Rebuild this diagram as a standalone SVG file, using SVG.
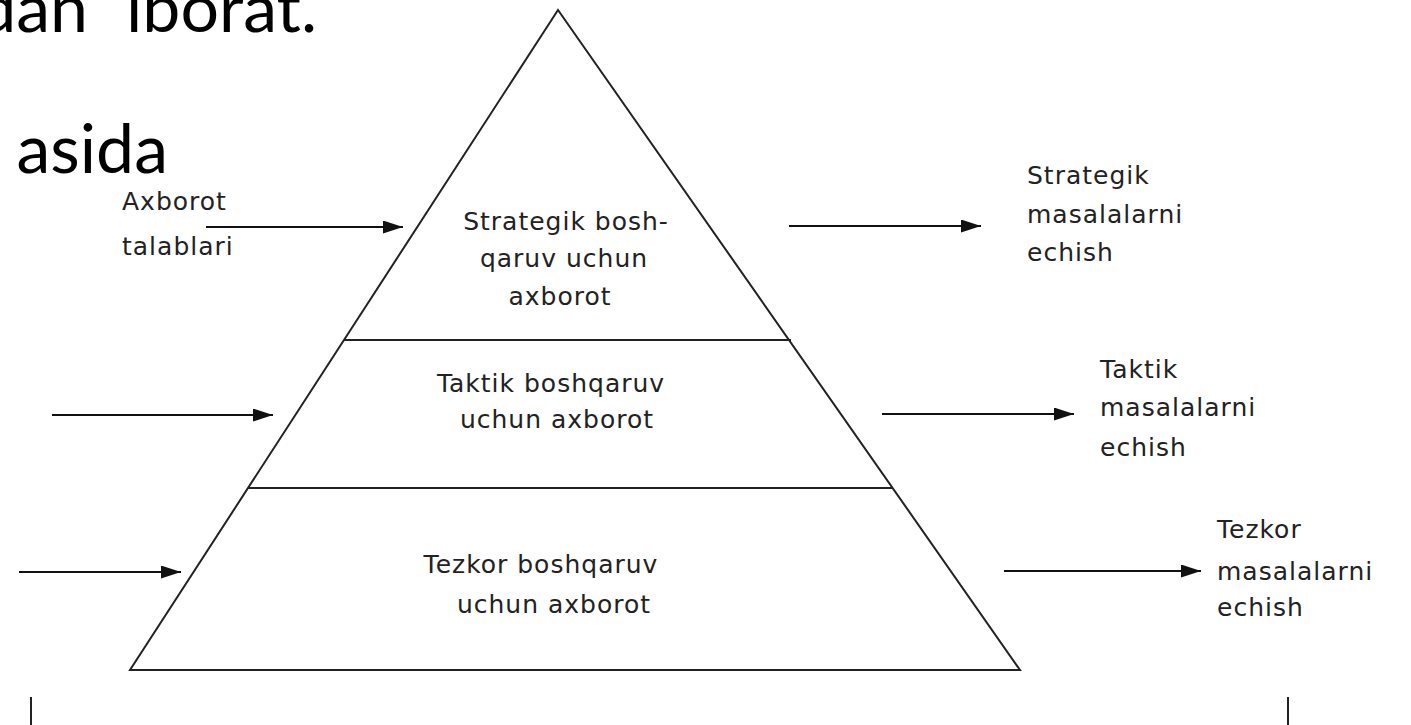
<svg xmlns="http://www.w3.org/2000/svg" width="1411" height="725" viewBox="0 0 1411 725">
  <style>
    .slide { font-family: "Lato", "Open Sans", sans-serif; font-size: 68px; fill: #000; }
    .lbl { font-family: "DejaVu Sans", "Liberation Sans", sans-serif; font-size: 25px; fill: #222; letter-spacing: 1px; }
    .mid { text-anchor: middle; }
    .edge { fill: none; stroke: #222; stroke-width: 2; }
    .arrow { stroke: #111; stroke-width: 2.2; marker-end: url(#head); }
  </style>
  <defs>
    <marker id="head" viewBox="0 0 10 10" refX="10" refY="5" markerWidth="20" markerHeight="13" markerUnits="userSpaceOnUse" orient="auto" preserveAspectRatio="none">
      <path d="M0,0 L10,5 L0,10 z" fill="#111"/>
    </marker>
  </defs>
  <rect width="1411" height="725" fill="#fff"/>

  <!-- slide body text around the figure -->
  <g id="slide-text">
    <text class="slide" x="88" y="32" text-anchor="end">dan</text>
    <text class="slide" x="126" y="32">iborat.</text>
    <text class="slide" x="168" y="173" text-anchor="end">asida</text>
  </g>

  <!-- pyramid and its three levels -->
  <g id="pyramid">
    <path class="edge" d="M558,10 L130,670 L1020,670 Z"/>
    <line class="edge" x1="344" y1="340" x2="791" y2="340"/>
    <line class="edge" x1="248" y1="488" x2="893" y2="488"/>
  </g>

  <g id="level-strategic">
    <text class="lbl mid" x="566" y="230">Strategik bosh-</text>
    <text class="lbl mid" x="564" y="267">qaruv uchun</text>
    <text class="lbl mid" x="560" y="305">axborot</text>
  </g>
  <g id="level-tactical">
    <text class="lbl mid" x="551" y="392">Taktik boshqaruv</text>
    <text class="lbl mid" x="557" y="428">uchun axborot</text>
  </g>
  <g id="level-operational">
    <text class="lbl mid" x="541" y="573">Tezkor boshqaruv</text>
    <text class="lbl mid" x="554" y="613">uchun axborot</text>
  </g>

  <!-- input and output labels -->
  <g id="input-label">
    <text class="lbl" x="122" y="210">Axborot</text>
    <text class="lbl" x="122" y="255">talablari</text>
  </g>
  <g id="output-strategic">
    <text class="lbl" x="1027" y="184">Strategik</text>
    <text class="lbl" x="1027" y="223">masalalarni</text>
    <text class="lbl" x="1027" y="261">echish</text>
  </g>
  <g id="output-tactical">
    <text class="lbl" x="1100" y="378">Taktik</text>
    <text class="lbl" x="1100" y="416">masalalarni</text>
    <text class="lbl" x="1100" y="456">echish</text>
  </g>
  <g id="output-operational">
    <text class="lbl" x="1217" y="538">Tezkor</text>
    <text class="lbl" x="1217" y="580">masalalarni</text>
    <text class="lbl" x="1217" y="616">echish</text>
  </g>

  <!-- connectors -->
  <g id="connectors">
    <line class="arrow" x1="206" y1="227" x2="403" y2="227"/>
    <line class="arrow" x1="789" y1="226" x2="981" y2="226"/>
    <line class="arrow" x1="52" y1="415" x2="273" y2="415"/>
    <line class="arrow" x1="882" y1="414" x2="1074" y2="414"/>
    <line class="arrow" x1="19" y1="572" x2="181" y2="572"/>
    <line class="arrow" x1="1004" y1="571" x2="1201" y2="571"/>
  </g>

  <!-- border ticks at the bottom -->
  <g id="ticks">
    <line class="edge" x1="31" y1="697" x2="31" y2="725"/>
    <line class="edge" x1="1288" y1="697" x2="1288" y2="725"/>
  </g>
</svg>
